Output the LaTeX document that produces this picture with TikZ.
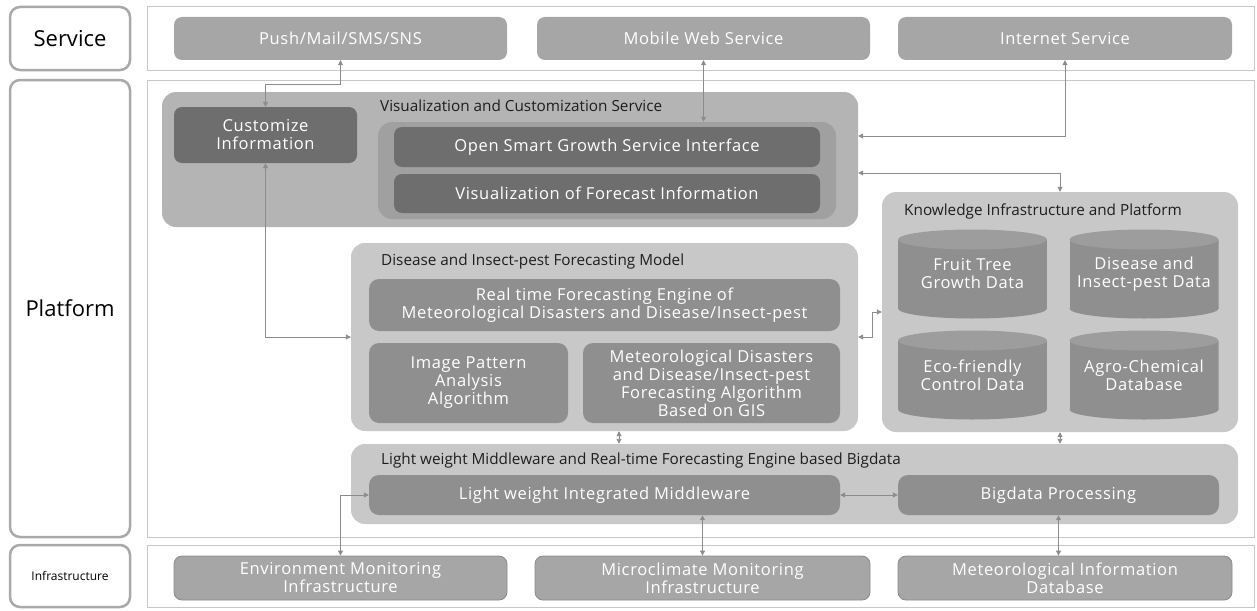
\documentclass[tikz,border=0pt]{standalone}
\usepackage{fontspec}
\setmainfont{Open Sans}
\usepackage{xcolor}
\usetikzlibrary{arrows.meta, calc, positioning}

\definecolor{frameline}{HTML}{C8C8C8}
\definecolor{labelline}{HTML}{A9A9A9}
\definecolor{svcfill}{HTML}{A6A6A6}
\definecolor{visfill}{HTML}{B4B4B4}
\definecolor{darkfill}{HTML}{6E6E6E}
\definecolor{innerfill}{HTML}{A0A0A0}
\definecolor{lightfill}{HTML}{C8C8C8}
\definecolor{midfill}{HTML}{8F8F8F}
\definecolor{cyltop}{HTML}{9D9D9D}
\definecolor{infraline}{HTML}{8A8A8A}
\definecolor{linkgray}{HTML}{8C8C8C}
\definecolor{titletext}{HTML}{1E1E1E}

\newcommand{\boxfont}{\fontsize{16.5}{18}\selectfont\addfontfeatures{LetterSpace=4}}
\newcommand{\titlefont}{\fontsize{15.3}{17}\selectfont}
\newcommand{\layerfont}{\fontsize{22}{26}\selectfont}

\tikzset{
    layerlabel/.style={draw=labelline, line width=2.5pt, rounded corners=10pt, fill=white, inner sep=0pt, minimum width=120pt},
    layerframe/.style={draw=frameline, line width=1pt, inner sep=0pt, minimum width=1107pt},
    svcbox/.style={fill=svcfill, rounded corners=8pt, text=white, font=\boxfont, align=center, inner sep=0pt, minimum height=43pt},
    infrabox/.style={svcbox, draw=infraline, line width=0.8pt},
    group/.style={rounded corners=14pt, inner sep=0pt},
    darkbox/.style={fill=darkfill, rounded corners=8pt, text=white, font=\boxfont, align=center, inner sep=0pt},
    midbox/.style={fill=midfill, rounded corners=10pt, text=white, font=\boxfont, align=center, inner sep=0pt},
    grptitle/.style={anchor=west, text=titletext, font=\titlefont, inner sep=0pt},
    cyl/.style={minimum width=149pt, minimum height=89pt, inner sep=0pt, text=white, font=\boxfont, align=center,
        path picture={
            \fill[midfill] ([yshift=-10pt]path picture bounding box.north west) rectangle ([yshift=10pt]path picture bounding box.south east);
            \fill[midfill] ([yshift=10pt]path picture bounding box.south) ellipse [x radius=74.5pt, y radius=10pt];
            \fill[cyltop] ([yshift=-10pt]path picture bounding box.north) ellipse [x radius=74.5pt, y radius=10pt];
        }},
    link/.style={draw=linkgray, line width=0.9pt, {Triangle[length=5pt,width=5pt]}-{Triangle[length=5pt,width=5pt]}}
}

\begin{document}
\begin{tikzpicture}[x=1pt, y=-1pt]
    \useasboundingbox (0,0) rectangle (1257,610);

    % layers
    \node[layerlabel, minimum height=63pt, font=\layerfont] (servicelabel) at (70,38.5) {Service};
    \node[layerlabel, minimum height=457pt, font=\layerfont] (platformlabel) at (70,308.5) {Platform};
    \node[layerlabel, minimum height=62pt, font=\fontsize{12}{14}\selectfont] (infralabel) at (70,576) {Infrastructure};
    \node[layerframe, minimum height=63pt] (serviceframe) at (700.5,38.5) {};
    \node[layerframe, minimum height=457pt] (platformframe) at (700.5,308.5) {};
    \node[layerframe, minimum height=62pt] (infraframe) at (700.5,576) {};

    % service layer
    \node[svcbox, minimum width=333pt] (push) at (340.5,38.5) {Push/Mail/SMS/SNS};
    \node[svcbox, minimum width=333pt] (mobile) at (703.5,38.5) {Mobile Web Service};
    \node[svcbox, minimum width=334pt] (internet) at (1065,38.5) {Internet Service};

    % visualization
    \node[group, fill=visfill, minimum width=696pt, minimum height=135pt] (vis) at (510,159.5) {};
    \node[grptitle] (vistitle) at (380,106) {Visualization and Customization Service};
    \node[darkbox, minimum width=183pt, minimum height=56pt] (custom) at (265.5,135) {Customize\\Information};
    \node[group, fill=innerfill, minimum width=458pt, minimum height=97pt] (inner) at (607,170.5) {};
    \node[darkbox, minimum width=426pt, minimum height=40pt] (opensmart) at (607,147) {Open Smart Growth Service Interface};
    \node[darkbox, minimum width=426pt, minimum height=39pt] (visforecast) at (607,193.5) {Visualization of Forecast Information};

    % knowledge
    \node[group, fill=lightfill, minimum width=356pt, minimum height=240pt] (know) at (1060,312) {};
    \node[grptitle] (knowtitle) at (904,211) {Knowledge Infrastructure and Platform};
    \node[cyl] (fruit) at (972.5,274) {Fruit Tree\\Growth Data};
    \node[cyl] (pestdata) at (1144,274) {Disease and\\Insect-pest Data};
    \node[cyl] (eco) at (972.5,375) {Eco-friendly\\Control Data};
    \node[cyl] (agro) at (1144,375) {Agro-Chemical\\Database};

    % forecasting model
    \node[group, fill=lightfill, minimum width=507pt, minimum height=188pt] (disease) at (604.5,337) {};
    \node[grptitle] (diseasetitle) at (381,262) {Disease and Insect-pest Forecasting Model};
    \node[midbox, minimum width=471pt, minimum height=52pt] (engine) at (604.5,305) {Real time Forecasting Engine of\\Meteorological Disasters and Disease/Insect-pest};
    \node[midbox, minimum width=199pt, minimum height=80pt] (image) at (468.5,383) {Image Pattern\\Analysis\\Algorithm};
    \node[midbox, minimum width=257pt, minimum height=80pt] (gis) at (711.5,383) {Meteorological Disasters\\and Disease/Insect-pest\\Forecasting Algorithm\\Based on GIS};

    % middleware
    \node[group, fill=lightfill, minimum width=887pt, minimum height=80pt] (lw) at (794.5,484) {};
    \node[grptitle] (lwtitle) at (381,461) {Light weight Middleware and Real-time Forecasting Engine based Bigdata};
    \node[midbox, minimum width=471pt, minimum height=40pt] (lwmid) at (604.5,495) {Light weight Integrated Middleware};
    \node[midbox, minimum width=321pt, minimum height=40pt] (bigdata) at (1058.5,495) {Bigdata Processing};

    % infrastructure layer
    \node[infrabox, minimum width=333pt, minimum height=44pt] (env) at (340.5,578) {Environment Monitoring\\Infrastructure};
    \node[infrabox, minimum width=335pt, minimum height=44pt] (micro) at (702.5,578) {Microclimate Monitoring\\Infrastructure};
    \node[infrabox, minimum width=334pt, minimum height=44pt] (metinfo) at (1065,578) {Meteorological Information\\Database};

    % links
    \draw[link] (push.south) -- ++(0,24) -| (custom.north);
    \draw[link] (mobile.south) -- (mobile.south |- inner.north);
    \draw[link] (internet.south) |- ([yshift=23.5pt]vis.east);
    \draw[link] ([yshift=-13.5pt]vis.east) -| (know.north);
    \draw[link] (custom.south) |- (disease.west);
    \draw[link] (disease.east) -- ++(14,0) |- (know.west);
    \draw[link] ([xshift=14.5pt]disease.south) -- ([xshift=14.5pt]disease.south |- lw.north);
    \draw[link] (know.south) -- (know.south |- lw.north);
    \draw[link] (lwmid.east) -- (bigdata.west);
    \draw[link] (lwmid.west) -| (env.north);
    \draw[link] (micro.north) -- (micro.north |- lwmid.south);
    \draw[link] (bigdata.south) -- (bigdata.south |- metinfo.north);
\end{tikzpicture}
\end{document}
